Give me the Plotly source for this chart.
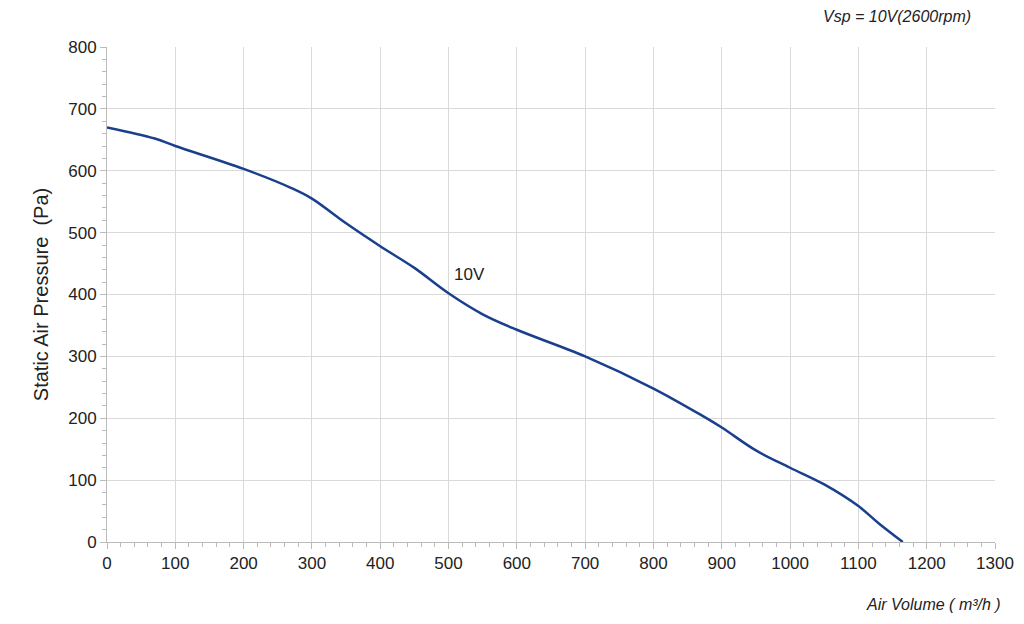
import plotly.graph_objects as go

air_volume = [0, 70, 100, 200, 270, 300, 350, 400, 450, 500, 550, 600, 700, 800, 870, 900, 950, 1000, 1050, 1100, 1130, 1165]
pressure = [670, 652, 640, 603, 572, 555, 515, 478, 443, 402, 368, 343, 300, 248, 205, 185, 148, 120, 93, 58, 30, 0]

fig = go.Figure(go.Scatter(x=air_volume, y=pressure, mode="lines", line=dict(color="#1a3f8c", width=2.5, shape="spline", smoothing=1.0), showlegend=False))

grid = "#d9d9d9"
font = dict(family="Liberation Sans, Arial", size=17, color="#222")
fig.update_xaxes(range=[0, 1300], dtick=100, showgrid=True, gridcolor=grid, showline=True, linecolor="#bbb",
                 ticks="outside", ticklen=6, tickcolor="#bbb", minor=dict(dtick=20, ticks="outside", ticklen=4, tickcolor="#bbb", showgrid=False),
                 zeroline=False, tickfont=font)
fig.update_yaxes(range=[0, 800], dtick=100, showgrid=True, gridcolor=grid, showline=True, linecolor="#bbb",
                 ticks="outside", ticklen=6, tickcolor="#bbb", minor=dict(dtick=20, ticks="outside", ticklen=4, tickcolor="#bbb", showgrid=False),
                 zeroline=False, tickfont=font,
                 title=dict(text="Static Air Pressure  (Pa)", font=dict(family="Liberation Sans, Arial", size=20, color="#222"), standoff=14))
fig.update_layout(width=1024, height=624, plot_bgcolor="white", paper_bgcolor="white",
                  margin=dict(l=99, r=37, t=39, b=90),
                  annotations=[
                      dict(x=530, y=432, text="10V", showarrow=False, font=dict(family="Liberation Sans, Arial", size=17, color="#222")),
                      dict(xref="paper", yref="paper", x=1.0, y=1.0, yshift=31, xshift=-22, xanchor="right", yanchor="middle",
                           text="<i>Vsp = 10V(2600rpm)</i>", showarrow=False, font=dict(family="Liberation Sans, Arial", size=16, color="#222")),
                      dict(xref="paper", yref="paper", x=1.0, y=0, yshift=-62, xshift=8, xanchor="right", yanchor="middle",
                           text="<i>Air Volume ( m³/h )</i>", showarrow=False, font=dict(family="Liberation Sans, Arial", size=16, color="#222")),
                  ])
fig.write_html("out.html")
